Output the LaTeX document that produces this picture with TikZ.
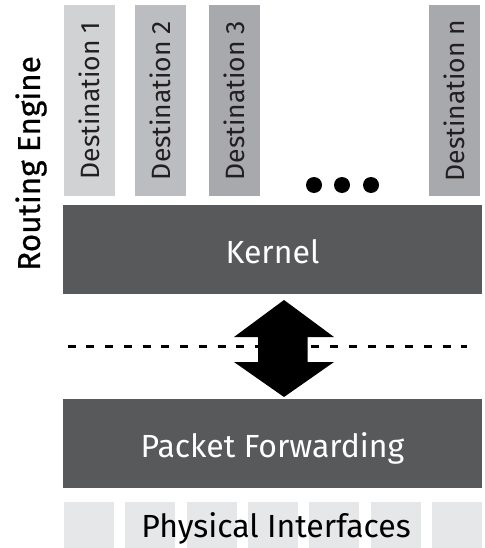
\documentclass[tikz,border=0pt]{standalone}
\usepackage{fontspec}
\setmainfont{Fira Sans}
\newfontfamily\heavier[FakeBold=0.6]{Fira Sans}
\usepackage{tikz}
\usetikzlibrary{positioning}
\usetikzlibrary{calc}
\definecolor{destuno}{RGB}{209,210,212}
\definecolor{destdue}{RGB}{188,189,192}
\definecolor{desttre}{RGB}{167,169,172}
\definecolor{scuro}{RGB}{88,89,91}
\definecolor{chiaro}{RGB}{230,231,232}
\definecolor{testo}{RGB}{35,31,32}
\tikzset{
  big text/.style={font={\fontsize{32}{33}\selectfont}, text height=27pt, text depth=0pt},
  layer box/.style={rectangle, fill=scuro, text=white, minimum width=419pt, minimum height=89pt, inner sep=0pt, big text},
  dest box/.style={rectangle, rotate=90, minimum width=191pt, minimum height=51pt, inner sep=0pt, text=testo, font={\fontsize{26.5}{27}\selectfont}},
  port box/.style={rectangle, fill=chiaro, minimum width=50pt, minimum height=46pt, inner sep=0pt},
  side label/.style={rotate=90, text=black, font={\heavier\fontsize{31.5}{32}\selectfont}},
  dots/.style={fill=black},
  split line/.style={black, line width=3pt, dash pattern=on 8pt off 10.75pt},
  double arrow/.style={fill=black},
}
\begin{document}
\begin{tikzpicture}[x=1pt,y=-1pt]
    \useasboundingbox (0,0) rectangle (484,548);

    % destinations
    \foreach \x/\c/\n/\t in {89.5/destuno/d1/1, 160.5/destdue/d2/2, 234.5/desttre/d3/3, 454.5/desttre/dn/n}
        \node[dest box, fill=\c] (\n) at (\x,100.5) {Destination \t};
    \foreach \x in {314,342,371}
        \fill[dots] (\x,185) circle (8pt);

    \node[side label] (re) at (31,163.5) {Routing Engine};

    % kernel and packet forwarding
    \node[layer box] (kernel) at (272.5,249.5) {Kernel};
    \node[layer box] (pfe) at (272.5,443.5) {Packet Forwarding};

    \coordinate (dl) at (67.5,346.5);
    \coordinate (dr) at (467,346.5);
    \draw[split line] (dl) -- (dr);

    \fill[double arrow] (284,300) -- (334,337) -- (307.5,337) -- (307.5,362)
        -- (334,362) -- (284,397) -- (234,362) -- (258,362) -- (258,337)
        -- (234,337) -- cycle;

    % physical interfaces
    \foreach \i in {0,...,6}
        \node[port box] (p\i) at (89+\i*61.3,525) {};
    \node[text=black, big text, inner sep=0pt] (phys) at (276,523.5) {Physical Interfaces};
\end{tikzpicture}
\end{document}
